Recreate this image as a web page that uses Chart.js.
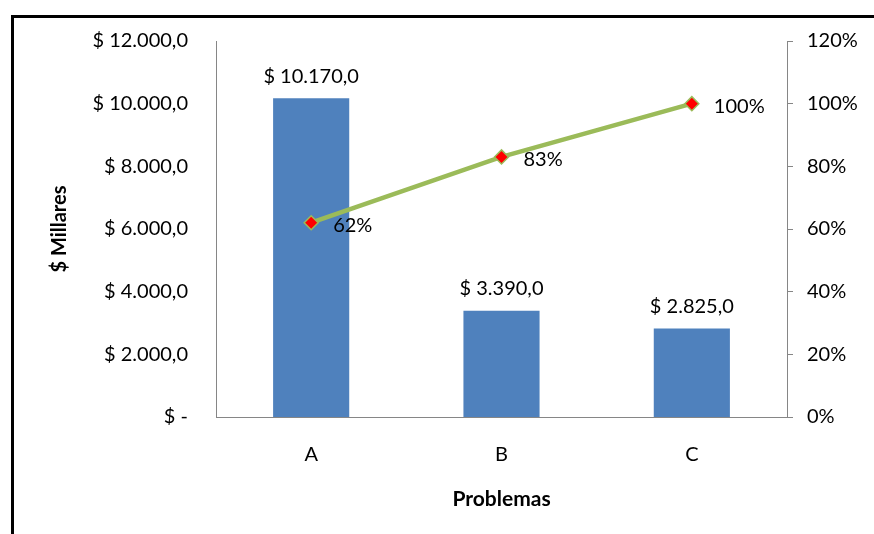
<!DOCTYPE html>
<html><head><meta charset="utf-8">
<script src="https://cdn.jsdelivr.net/npm/chart.js@4"></script>
<style>
html,body{margin:0;padding:0;background:#fff;}
#wrap{position:relative;width:874px;height:534px;overflow:hidden;background:#fff;}
#frame{position:absolute;left:11px;top:15px;width:900px;height:600px;border-top:3px solid #000;border-left:3px solid #000;}
canvas{position:absolute;left:0;top:0;}
</style></head>
<body><div id="wrap"><div id="frame"></div><canvas id="c" width="874" height="534"></canvas></div>
<script>
const categories = ['A', 'B', 'C'];
const values = [10170, 3390, 2825];
const cumulativePct = [62, 83, 100];
const barLabels = ['$ 10.170,0', '$ 3.390,0', '$ 2.825,0'];
const lineLabels = ['62%', '83%', '100%'];
const leftTicks = ['$ -', '$ 2.000,0', '$ 4.000,0', '$ 6.000,0', '$ 8.000,0', '$ 10.000,0', '$ 12.000,0'];
const rightTicks = ['0%', '20%', '40%', '60%', '80%', '100%', '120%'];

const FONT = 'Lato, "Open Sans", sans-serif';
const AXIS = '#868686';

const labelPlugin = {
  id: 'labels',
  afterDatasetsDraw(chart) {
    const ctx = chart.ctx;
    ctx.save();
    ctx.font = '20px ' + FONT;
    ctx.fillStyle = '#000';
    const bars = chart.getDatasetMeta(0).data;
    ctx.textAlign = 'center';
    ctx.textBaseline = 'middle';
    bars.forEach((b, i) => ctx.fillText(barLabels[i], b.x, b.y - 22));
    const pts = chart.getDatasetMeta(1).data;
    ctx.textAlign = 'left';
    pts.forEach((p, i) => ctx.fillText(lineLabels[i], p.x + 22, p.y + 3));
    ctx.restore();
  }
};

new Chart(document.getElementById('c'), {
  type: 'bar',
  data: {
    labels: categories,
    datasets: [
      {
        type: 'bar', data: values, backgroundColor: '#4F81BD', yAxisID: 'y', order: 1,
        barPercentage: 0.4, categoryPercentage: 1
      },
      {
        type: 'line', data: cumulativePct, yAxisID: 'y1', order: 0,
        borderColor: '#9BBB59', borderWidth: 4.5, tension: 0,
        pointStyle: 'rectRot', pointRadius: 7, pointBackgroundColor: '#FF0000',
        pointBorderColor: '#9BBB59', pointBorderWidth: 1.5
      }
    ]
  },
  options: {
    responsive: false, animation: false,
    layout: { padding: { top: 41, left: 0, right: 0, bottom: 0 } },
    plugins: { legend: { display: false }, tooltip: { enabled: false } },
    scales: {
      x: {
        grid: { display: false, drawTicks: false },
        border: { display: true, color: AXIS, width: 1 },
        ticks: { padding: 26, color: '#000', font: { family: FONT, size: 20 } },
        title: { display: true, text: 'Problemas', color: '#000', font: { family: FONT, size: 21, weight: 'bold' }, padding: { top: 0, bottom: 22 } },
        afterFit(s) { s.height = 117; }
      },
      y: {
        position: 'left', min: 0, max: 12000,
        grid: { display: false, drawTicks: false },
        border: { display: true, color: AXIS, width: 1 },
        ticks: { stepSize: 2000, padding: 28, color: '#000', font: { family: FONT, size: 20 },
          callback: (v, i) => leftTicks[i] },
        title: { display: true, text: '$ Millares', color: '#000', font: { family: FONT, size: 20, weight: 'bold' }, padding: { top: 48, bottom: 0 } },
        afterFit(s) { s.width = 216; }
      },
      y1: {
        position: 'right', min: 0, max: 120,
        grid: { display: true, drawOnChartArea: false, drawTicks: true, tickLength: 6, color: AXIS },
        border: { display: true, color: AXIS, width: 1 },
        ticks: { stepSize: 20, padding: 14, color: '#000', font: { family: FONT, size: 20 },
          callback: (v, i) => rightTicks[i] },
        afterFit(s) { s.width = 87; }
      }
    }
  },
  plugins: [labelPlugin]
});
</script>
</body></html>
